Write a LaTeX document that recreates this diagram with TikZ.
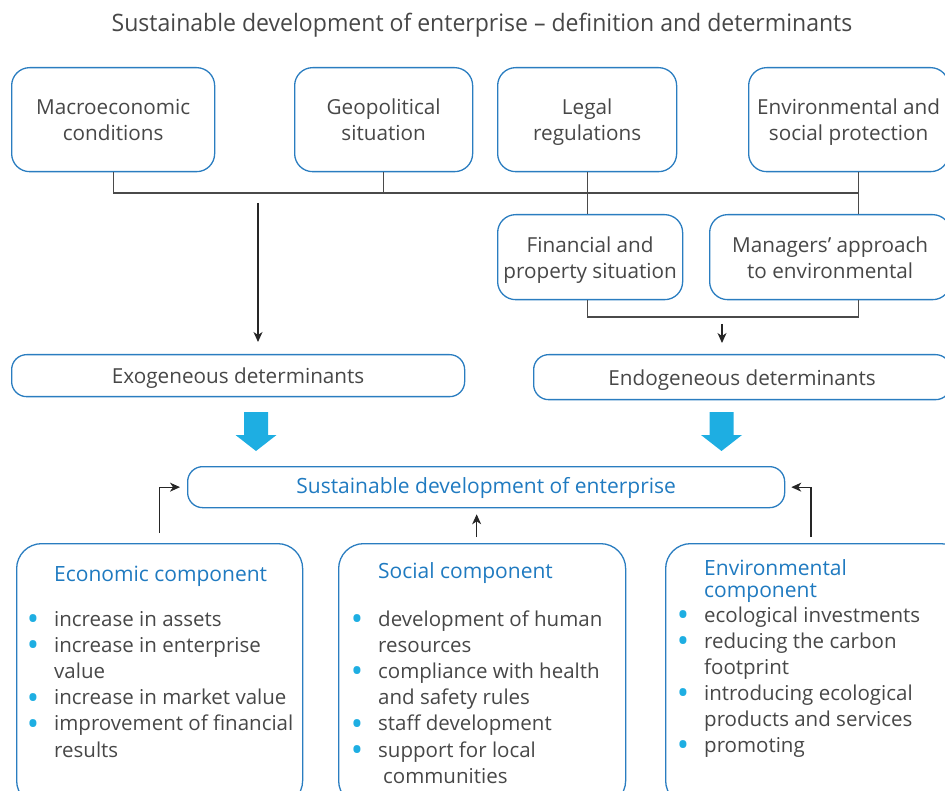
\documentclass[tikz,border=0pt]{standalone}
\usepackage{fontspec}
\setmainfont{Open Sans}
\usetikzlibrary{arrows.meta,calc}
\definecolor{boxblue}{HTML}{2A7DC0}
\definecolor{headblue}{HTML}{1F7AC0}
\definecolor{cyanarr}{HTML}{1EAEE2}
\definecolor{txtgray}{HTML}{474747}
\definecolor{linegray}{HTML}{4A4A4A}
\newcommand\bul{\llap{\textcolor{cyanarr}{\raisebox{-4.4pt}[0pt][0pt]{\scalebox{1.6}{\textbullet}}}\hspace{15pt}}}
\newcommand\twol[2]{\raisebox{-3pt}[\height][\depth]{\begin{tabular}{@{}c@{}}#1\\#2\end{tabular}}}
\begin{document}
\begin{tikzpicture}[x=1pt,y=-1pt,
  tbox/.style={draw=boxblue,line width=1.3pt,rounded corners=18pt,text=txtgray,align=center,
    font=\fontsize{20.7}{26}\selectfont,inner sep=0pt,anchor=north west},
  pill/.style={tbox,rounded corners=15pt,text height=17pt,text depth=1pt},
  bigbox/.style={tbox,rounded corners=25pt},
  head/.style={text=headblue,font=\fontsize{21}{22}\selectfont,inner sep=0pt,anchor=base west},
  lst/.style={text=txtgray,font=\fontsize{20.5}{26.2}\selectfont,inner sep=0pt,anchor=base west},
  conn/.style={draw=linegray,line width=1.1pt},
  arr/.style={conn,draw=black!85,-{Stealth[length=10pt,width=9pt,inset=3pt]}},
  blockarr/.style={fill=cyanarr}
]
\useasboundingbox (0,0) rectangle (945,791);

\node[anchor=base,text=txtgray,font=\fontsize{24}{28}\selectfont,inner sep=0pt] (title) at (482,32)
  {\scalebox{0.96}[1]{Sustainable development of enterprise -- definition and determinants}};

% top row
\node[tbox,minimum width=203pt,minimum height=104pt] (macro) at (11,67) {\twol{Macroeconomic}{conditions}};
\node[tbox,minimum width=178pt,minimum height=104pt] (geo) at (294,67) {\twol{Geopolitical}{situation}};
\node[tbox,minimum width=179pt,minimum height=104pt] (legal) at (497,67) {\twol{Legal}{regulations}};
\node[tbox,minimum width=200pt,minimum height=104pt] (env) at (748,67) {\twol{Environmental and}{social protection}};

% second row
\node[tbox,minimum width=185pt,minimum height=85pt] (fin) at (497,214) {\twol{Financial and}{property situation}};
\node[tbox,minimum width=241pt,minimum height=85pt] (mgr) at (709,214) {\twol{Managers’ approach}{to environmental}};

% determinants
\node[pill,minimum width=453pt,minimum height=42pt] (exo) at (11,354) {Exogeneous determinants};
\node[pill,minimum width=417pt,minimum height=45pt] (endo) at (533,354) {Endogeneous determinants};

% sustainable development
\node[pill,minimum width=597pt,minimum height=41pt,text=headblue,text height=16pt,text depth=3pt,
  font=\fontsize{21}{26}\selectfont] (sd) at (187,466) {Sustainable development of enterprise};

% bottom boxes
\node[bigbox,minimum width=286pt,minimum height=262pt] (econ) at (16,543) {};
\node[bigbox,minimum width=287pt,minimum height=262pt] (soc) at (338,543) {};
\node[bigbox,minimum width=300pt,minimum height=262pt] (envc) at (665,543) {};

\node[head] (econh) at (54,581) {Economic component};
\node[lst] (econl) at (54,626) {\begin{tabular}[t]{@{}l@{}}\bul increase in assets\\\bul increase in enterprise\\value\\\bul increase in market value\\\bul improvement of financial\\results\end{tabular}};

\node[head] (soch) at (378,578) {Social component};
\node[lst] (socl) at (378,626) {\begin{tabular}[t]{@{}l@{}}\bul development of human\\resources\\\bul compliance with health\\and safety rules\\\bul staff development\\\bul support for local\\\hspace{5pt}communities\end{tabular}};

\node[head] (envch) at (704,575) {\begin{tabular}[t]{@{}l@{}}Environmental\\component\end{tabular}};
\node[lst,font=\fontsize{20.5}{26}\selectfont] (envcl) at (704,622) {\begin{tabular}[t]{@{}l@{}}\bul ecological investments\\\bul reducing the carbon\\footprint\\\bul introducing ecological\\products and services\\\bul promoting\end{tabular}};

% connectors top
\coordinate (hbar) at (0,193);
\coordinate (envdrop) at ($(env.south)+(10,0)$);
\draw[conn] (macro.south) -- (macro.south |- hbar) -- (envdrop |- hbar) -- (envdrop) ;
\draw[conn] (geo.south) -- (geo.south |- hbar);
\draw[conn] (legal.south) -- (legal.south |- fin.north);
\draw[conn] (envdrop) -- (envdrop |- mgr.north);

% exogenous arrow
\coordinate (exoin) at (258,203);
\draw[arr] (exoin) -- ($(exoin |- exo.north)+(0,-12)$);

% endogenous bracket and arrow
\coordinate (endobar) at (0,317);
\draw[conn] (legal.south |- fin.south) -- (legal.south |- endobar) -- (envdrop |- endobar) -- (envdrop |- mgr.south);
\coordinate (endoin) at (722,324);
\draw[arr] (endoin) -- ($(endoin |- endo.north)+(0,-11)$);

% block arrows
\fill[blockarr] (244,412) -- (268,412) -- (268,435) -- (276.5,435) -- (256,451) -- (235.5,435) -- (244,435) -- cycle;
\fill[blockarr] (709.5,412) -- (733.5,412) -- (733.5,435) -- (742,435) -- (721.5,451) -- (701,435) -- (709.5,435) -- cycle;

% feedback arrows
\draw[arr] ($(econ.north)+(0,-10)$) -- (econ.north |- sd.west) -- ($(sd.west)+(-7,0)$);
\draw[arr] ($(soc.north)+(-5.5,-6)$) -- ($(soc.north |- sd.south)+(-5.5,6)$);
\coordinate (envup) at (811,537);
\draw[arr] (envup) -- (envup |- sd.east) -- ($(sd.east)+(6,0)$);
\end{tikzpicture}
\end{document}
